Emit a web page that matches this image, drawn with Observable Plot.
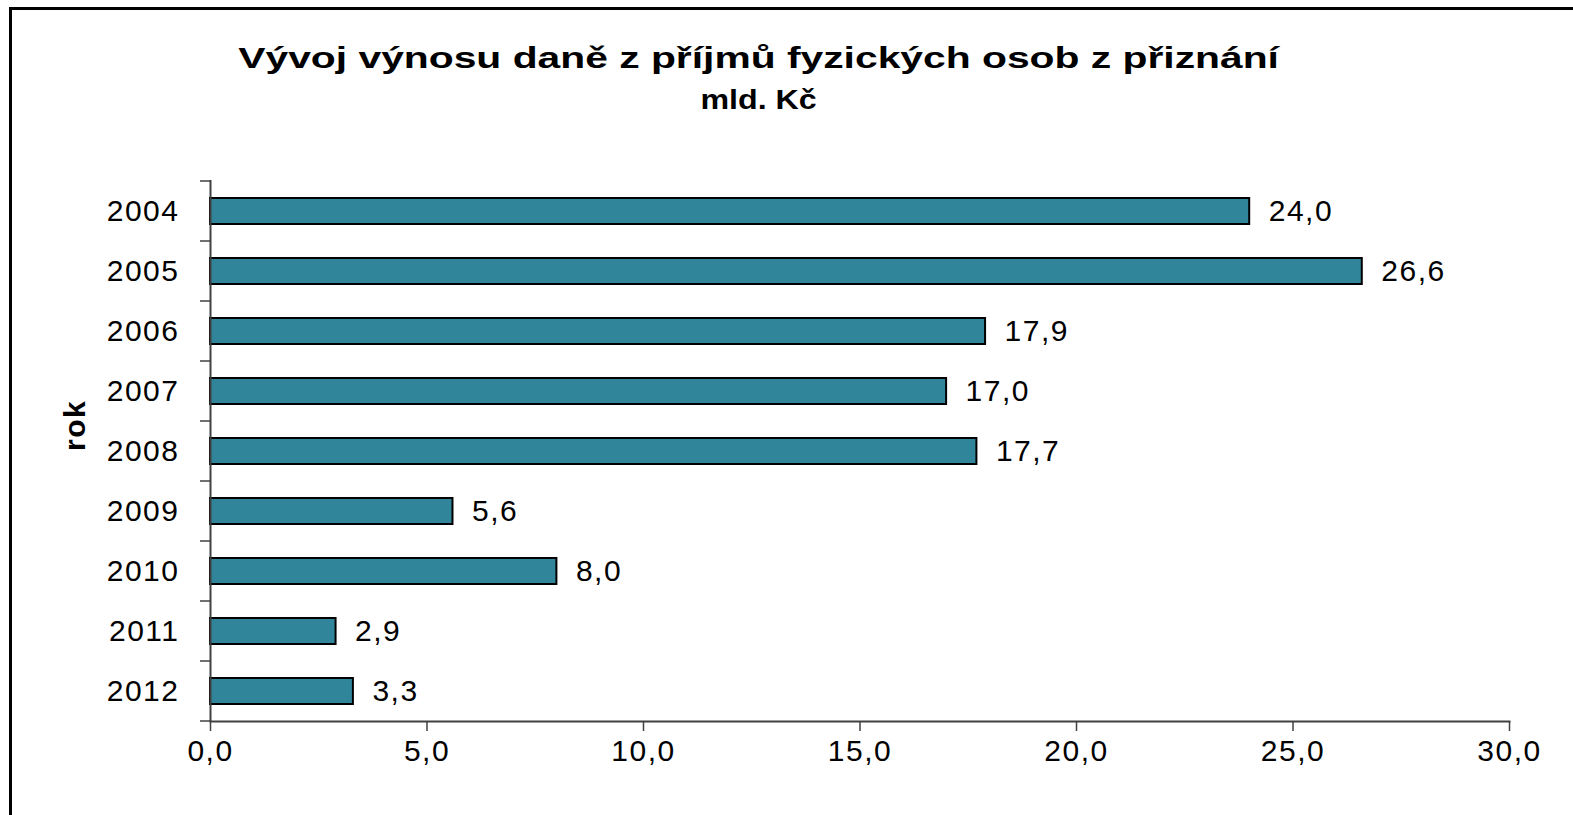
<!DOCTYPE html>
<html>
<head>
<meta charset="utf-8">
<script src="https://cdn.jsdelivr.net/npm/d3@7"></script>
<script src="https://cdn.jsdelivr.net/npm/@observablehq/plot@0.6"></script>
<style>
  html, body { margin: 0; padding: 0; background: #fff; }
  #page { position: relative; width: 1573px; height: 815px; overflow: hidden; font-family: "Liberation Sans", Arial, sans-serif; color: #000; }
  #border { position: absolute; left: 9px; top: 7px; width: 1700px; height: 900px; border-left: 3px solid #000; border-top: 3px solid #000; box-sizing: border-box; pointer-events: none; }
  #header { position: relative; height: 130px; }
  .hline { position: absolute; left: 0; width: 1518px; text-align: center; font-weight: bold; white-space: nowrap; }
  .hline span { display: inline-block; transform-origin: 50% 50%; }
  #title { top: 40px; font-size: 30px; line-height: 36px; }
  #title span { transform: scaleX(1.36); }
  #subtitle { top: 84px; font-size: 28px; line-height: 32px; }
  #subtitle span { transform: scaleX(1.15); }
  #chart svg { display: block; }
</style>
</head>
<body>
<div id="page">
  <div id="header">
    <div id="title" class="hline"><span>Vývoj výnosu daně z příjmů fyzických osob z přiznání</span></div>
    <div id="subtitle" class="hline"><span>mld. Kč</span></div>
  </div>
  <div id="chart"></div>
  <div id="border"></div>
</div>
<script>
const years = ["2004", "2005", "2006", "2007", "2008", "2009", "2010", "2011", "2012"];
const values = [24.0, 26.6, 17.9, 17.0, 17.7, 5.6, 8.0, 2.9, 3.3];
const xTicks = [0, 5, 10, 15, 20, 25, 30];
const axisTitle = "rok";

const data = years.map((year, i) => ({year, value: values[i]}));
const fmt = v => d3.format(".1f")(v).replace(".", ",");

const W = 1573, H = 685, ML = 210, MR = 64, MT = 50, MB = 94;

// tick marks on band boundaries of the categorical y axis
function boundaryTicks(index, scales, vals, dims) {
  const y = scales.y, x = scales.x;
  const n = years.length;
  let step = (typeof y.step === "function") ? y.step() : (scales.scales && scales.scales.y && scales.scales.y.step);
  let bw = (typeof y.bandwidth === "function") ? y.bandwidth() : (scales.scales && scales.scales.y && scales.scales.y.bandwidth);
  if (!(step > 0)) step = (dims.height - dims.marginTop - dims.marginBottom) / n;
  if (!(bw >= 0)) bw = step * 0.43;
  const first = y(years[0]) - (step - bw) / 2;
  const x0 = x(0);
  const g = d3.create("svg:g").attr("stroke", "#404040").attr("stroke-width", 1.5);
  for (let i = 0; i <= n; i++) {
    const yy = first + i * step;
    g.append("line").attr("x1", x0 - 10).attr("x2", x0).attr("y1", yy).attr("y2", yy);
  }
  return g.node();
}

const chart = Plot.plot({
  width: W, height: H,
  marginLeft: ML, marginRight: MR, marginTop: MT, marginBottom: MB,
  style: {fontFamily: "'Liberation Sans', Arial, sans-serif", fontSize: "30px", color: "#000", background: "#fff", overflow: "visible", letterSpacing: "1.5px"},
  x: {domain: [0, 30]},
  y: {domain: years, paddingInner: 0.57, paddingOuter: 0.285},
  marks: [
    Plot.barX(data, {x: "value", y: "year", fill: "#31859B", stroke: "#000", strokeWidth: 2}),
    Plot.text(data, {x: "value", y: "year", text: d => fmt(d.value), textAnchor: "start", dx: 19, fontSize: 30, fill: "#000"}),
    Plot.axisX({ticks: xTicks, tickFormat: fmt, tickSize: 10, tickPadding: 8, label: null, stroke: "#404040", strokeWidth: 1.5, fontSize: 30}),
    Plot.axisY({tickSize: 0, tickPadding: 31, label: null, fontSize: 30}),
    Plot.ruleX([0], {stroke: "#404040", strokeWidth: 2}),
    Plot.frame({anchor: "bottom", stroke: "#404040", strokeWidth: 2}),
    boundaryTicks,
    Plot.text([axisTitle], {frameAnchor: "left", dx: -135, rotate: -90, fontWeight: "bold", fontSize: 30, fill: "#000"})
  ]
});
document.getElementById("chart").appendChild(chart);
</script>
</body>
</html>
